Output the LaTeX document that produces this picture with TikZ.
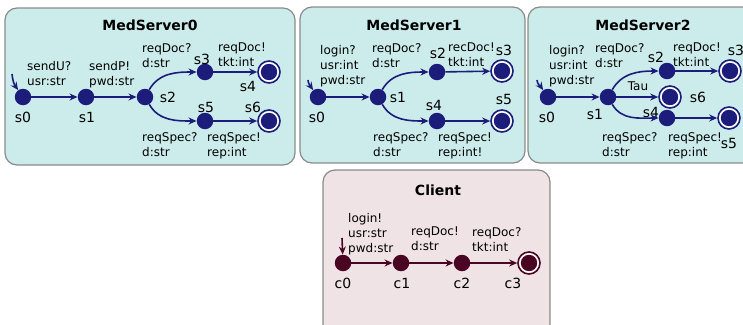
\documentclass[tikz,border=0pt]{standalone}
\usepackage{fontspec}
\setmainfont{DejaVu Sans}
\usetikzlibrary{arrows.meta}

\definecolor{srvfill}{HTML}{CCECEC}
\definecolor{clifill}{HTML}{F0E3E6}
\definecolor{srvnode}{HTML}{1C1C7A}
\definecolor{clinode}{HTML}{4A0522}
\definecolor{frame}{HTML}{8A8A8A}

\tikzset{
  panel/.style={draw=frame, line width=1.2pt, rounded corners=12pt},
  title/.style={font=\bfseries\fontsize{14}{16}\selectfont},
  loc/.style={circle, fill=#1, inner sep=0pt, minimum size=16.5pt},
  finloc/.style={circle, draw=#1, fill=white, line width=1.6pt, inner sep=0pt,
                 minimum size=22pt,
                 path picture={\fill[#1] (path picture bounding box.center) circle (8.2pt);}},
  sname/.style={font=\fontsize{14}{16}\selectfont, inner sep=0pt},
  act/.style={font=\fontsize{12}{15}\selectfont, align=left, anchor=north west, inner sep=0pt},
  trans/.style={draw=#1, line width=1.6pt, -{Stealth[length=8pt,width=7pt]}},
}

\begin{document}
\begin{tikzpicture}[x=1pt,y=-1pt]
\useasboundingbox (0,0) rectangle (743,324);
            % MedServer0
            \begin{scope}[shift={(0,0)}]
                \draw[panel, fill=srvfill] (5,8) rectangle (295,165);
                \node[title] (m0t) at (150,25) {MedServer0};
                \node[loc=srvnode] (m0s0) at (23,97) {};
                \node[loc=srvnode] (m0s1) at (86,97) {};
                \node[loc=srvnode] (m0s2) at (145,97) {};
                \node[loc=srvnode] (m0s3) at (205,72) {};
                \node[finloc=srvnode] (m0s4) at (269,72) {};
                \node[loc=srvnode] (m0s5) at (205,121) {};
                \node[finloc=srvnode] (m0s6) at (269,121) {};
                \node[sname] (m0n0) at (23,117) {s0};
                \node[sname] (m0n1) at (87,117) {s1};
                \node[sname] (m0n2) at (168,97) {s2};
                \node[sname] (m0n3) at (202,59) {s3};
                \node[sname] (m0n4) at (248,86) {s4};
                \node[sname] (m0n5) at (206,107) {s5};
                \node[sname] (m0n6) at (253,107) {s6};
                \node[act] (m0a1) at (27,61) {sendU?\\usr:str};
                \node[act] (m0a2) at (89,61) {sendP!\\pwd:str};
                \node[act] (m0a3) at (142,43) {reqDoc?\\d:str};
                \node[act] (m0a4) at (218,43) {reqDoc!\\tkt:int};
                \node[act] (m0a5) at (142,132) {reqSpec?\\d:str};
                \node[act] (m0a6) at (207,132) {reqSpec!\\rep:int};
                \coordinate (m0i) at (12,74);
                \draw[trans=srvnode] (m0i) to[out=-85,in=125] (m0s0);
                \draw[trans=srvnode] (m0s0) -- (m0s1);
                \draw[trans=srvnode] (m0s1) -- (m0s2);
                \draw[trans=srvnode] (m0s2) to[out=60,in=180] (m0s3);
                \draw[trans=srvnode] (m0s3) -- (m0s4);
                \draw[trans=srvnode] (m0s2) to[out=-60,in=180] (m0s5);
                \draw[trans=srvnode] (m0s5) -- (m0s6);
            \end{scope}
            % MedServer1
            \begin{scope}[shift={(295,0)}]
                \draw[panel, fill=srvfill] (5,7) rectangle (230,163);
                \node[title] (m1t) at (119,25) {MedServer1};
                \node[loc=srvnode] (m1s0) at (23,97) {};
                \node[loc=srvnode] (m1s1) at (83,97) {};
                \node[loc=srvnode] (m1s2) at (142,72) {};
                \node[finloc=srvnode] (m1s3) at (207,71) {};
                \node[loc=srvnode] (m1s4) at (142,121) {};
                \node[finloc=srvnode] (m1s5) at (207,121) {};
                \node[sname] (m1n0) at (22,117) {s0};
                \node[sname] (m1n1) at (103,97) {s1};
                \node[sname] (m1n2) at (143,53) {s2};
                \node[sname] (m1n3) at (209,50) {s3};
                \node[sname] (m1n4) at (139,105) {s4};
                \node[sname] (m1n5) at (209,99) {s5};
                \node[act] (m1a1) at (25,45) {login?\\usr:int\\pwd:str};
                \node[act] (m1a2) at (77,43) {reqDoc?\\d:str};
                \node[act] (m1a3) at (153,43) {recDoc!\\tkt:int};
                \node[act] (m1a4) at (78,132) {reqSpec?\\d:str};
                \node[act] (m1a5) at (143,132) {reqSpec!\\rep:int!};
                \coordinate (m1i) at (13,80);
                \draw[trans=srvnode] (m1i) to[out=-85,in=125] (m1s0);
                \draw[trans=srvnode] (m1s0) -- (m1s1);
                \draw[trans=srvnode] (m1s1) to[out=60,in=180] (m1s2);
                \draw[trans=srvnode] (m1s2) -- (m1s3);
                \draw[trans=srvnode] (m1s1) to[out=-60,in=180] (m1s4);
                \draw[trans=srvnode] (m1s4) -- (m1s5);
            \end{scope}
            % MedServer2
            \begin{scope}[shift={(525,0)}]
                \draw[panel, fill=srvfill] (3,7) rectangle (235,163);
                \node[title] (m2t) at (118,25) {MedServer2};
                \node[loc=srvnode] (m2s0) at (23,97) {};
                \node[loc=srvnode] (m2s1) at (83,97) {};
                \node[loc=srvnode] (m2s2) at (142,71) {};
                \node[finloc=srvnode] (m2s3) at (205,71) {};
                \node[finloc=srvnode] (m2s6) at (145,97) {};
                \node[loc=srvnode] (m2s4) at (142,118) {};
                \node[finloc=srvnode] (m2s5) at (204,118) {};
                \node[sname] (m2n0) at (22,117) {s0};
                \node[sname] (m2n1) at (70,114) {s1};
                \node[sname] (m2n2) at (131,57) {s2};
                \node[sname] (m2n3) at (211,50) {s3};
                \node[sname] (m2n6) at (173,97) {s6};
                \node[sname] (m2n4) at (126,112) {s4};
                \node[sname] (m2n5) at (204,143) {s5};
                \node[act] (m2a1) at (24,45) {login?\\usr:int\\pwd:str};
                \node[act] (m2a2) at (70,43) {reqDoc?\\d:str};
                \node[act] (m2a3) at (148,43) {reqDoc!\\tkt:int};
                \node[act, anchor=center] (m2a4) at (113,86) {Tau};
                \node[act] (m2a5) at (77,132) {reqSpec?\\d:str};
                \node[act] (m2a6) at (143,132) {reqSpec!\\rep:int};
                \coordinate (m2i) at (12,80);
                \draw[trans=srvnode] (m2i) to[out=-85,in=125] (m2s0);
                \draw[trans=srvnode] (m2s0) -- (m2s1);
                \draw[trans=srvnode] (m2s1) to[out=60,in=180] (m2s2);
                \draw[trans=srvnode] (m2s2) -- (m2s3);
                \draw[trans=srvnode] (m2s1) -- (m2s6);
                \draw[trans=srvnode] (m2s1) to[out=-60,in=180] (m2s4);
                \draw[trans=srvnode] (m2s4) -- (m2s5);
            \end{scope}
            % Client
            \begin{scope}[shift={(320,165)}]
                \draw[panel, fill=clifill] (3,5) rectangle (230,175);
                \node[title] (ct) at (118,25) {Client};
                \node[loc=clinode] (c0) at (23,98) {};
                \node[loc=clinode] (c1) at (81,98) {};
                \node[loc=clinode] (c2) at (142,98) {};
                \node[finloc=clinode] (c3) at (209,98) {};
                \node[sname] (cn0) at (23,118) {c0};
                \node[sname] (cn1) at (82,118) {c1};
                \node[sname] (cn2) at (142,118) {c2};
                \node[sname] (cn3) at (193,118) {c3};
                \node[act] (ca1) at (28,48) {login!\\usr:str\\pwd:str};
                \node[act] (ca2) at (91,62) {reqDoc!\\d:str};
                \node[act] (ca3) at (152,62) {reqDoc?\\tkt:int};
                \coordinate (ci) at (22,73);
                \draw[trans=clinode] (ci) -- (c0);
                \draw[trans=clinode] (c0) -- (c1);
                \draw[trans=clinode] (c1) -- (c2);
                \draw[trans=clinode] (c2) -- (c3);
            \end{scope}
\end{tikzpicture}
\end{document}
